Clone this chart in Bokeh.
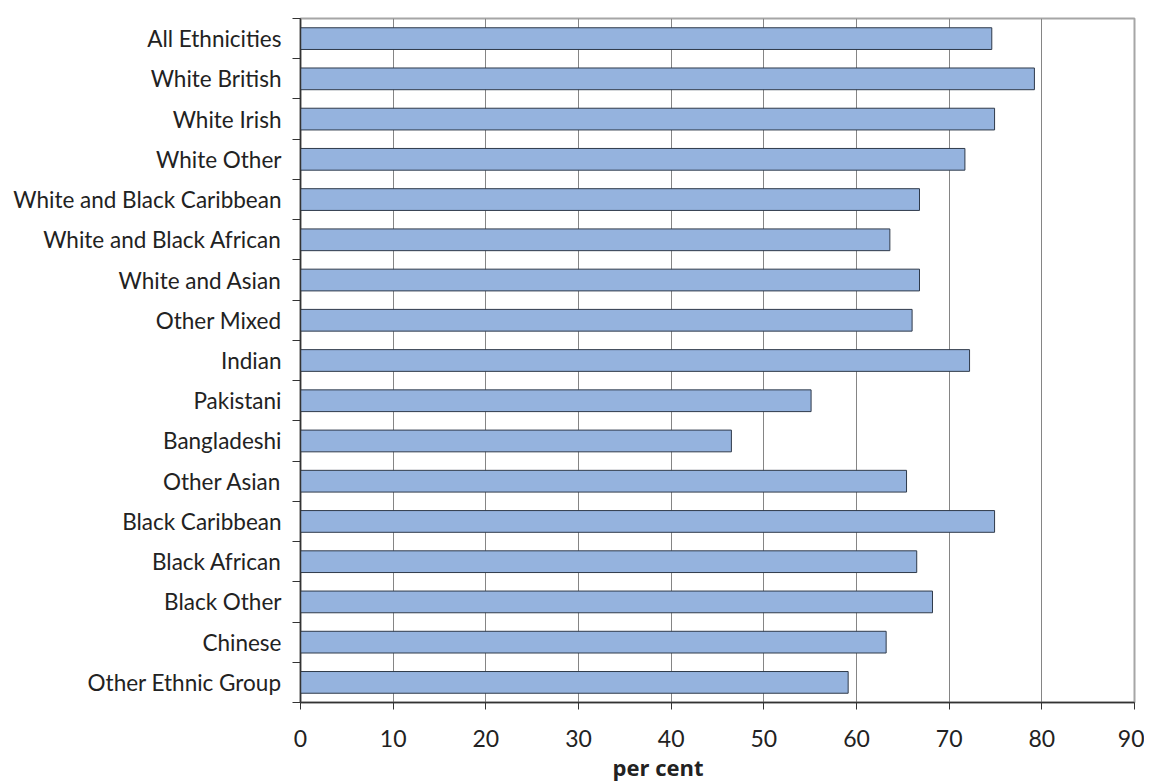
from bokeh.plotting import figure
from bokeh.models import Range1d, FixedTicker, ColumnDataSource, Title
from bokeh.embed import file_html
from bokeh.resources import INLINE

categories = [
    "All Ethnicities", "White British", "White Irish", "White Other",
    "White and Black Caribbean", "White and Black African", "White and Asian",
    "Other Mixed", "Indian", "Pakistani", "Bangladeshi", "Other Asian",
    "Black Caribbean", "Black African", "Black Other", "Chinese",
    "Other Ethnic Group",
]
values = [74.6, 79.2, 74.9, 71.7, 66.8, 63.6, 66.8, 66.0, 72.2, 55.1, 46.5,
          65.4, 74.9, 66.5, 68.2, 63.2, 59.1]
x_ticks = [0, 10, 20, 30, 40, 50, 60, 70, 80, 90]

n = len(categories)
ypos = [n - 1 - i for i in range(n)]
src = ColumnDataSource(dict(y=ypos, v=values, cat=categories))

FONT = "Lato"

p = figure(
    output_backend="svg", toolbar_location=None,
    frame_width=834, frame_height=684,
    min_border_left=300, min_border_top=18, min_border_right=10, min_border_bottom=0,
    x_range=Range1d(0, 90), y_range=Range1d(-0.5, n - 0.5),
)
p.hbar(y="y", left=0, right="v", height=0.54, source=src,
       fill_color="#95b3de", line_color="#2f3a4a", line_width=1)

p.xgrid.ticker = FixedTicker(ticks=x_ticks)
p.xgrid.grid_line_color = "#858585"
p.xgrid.grid_line_width = 1
p.ygrid.grid_line_color = None

p.outline_line_color = "#a6a6a6"
p.outline_line_width = 2

xa = p.xaxis[0]
xa.ticker = FixedTicker(ticks=x_ticks)
xa.axis_line_color = "#333333"
xa.axis_line_width = 1.5
xa.major_tick_in = 0
xa.major_tick_out = 7
xa.major_tick_line_color = "#333333"
xa.minor_tick_line_color = None
xa.major_label_text_font = FONT
xa.major_label_text_font_size = "23px"
xa.major_label_text_color = "#222222"
xa.major_label_standoff = 20

p.add_layout(Title(text="per cent", align="left", offset=312,
                   text_font="Open Sans", text_font_style="bold",
                   text_font_size="22px", text_color="#222222",
                   standoff=0), "below")

ya = p.yaxis[0]
boundaries = [i - 0.5 for i in range(n + 1)]
ya.ticker = FixedTicker(ticks=ypos, minor_ticks=boundaries)
ya.major_label_overrides = {y: c for y, c in zip(ypos, categories)}
ya.axis_line_color = "#333333"
ya.axis_line_width = 1.5
ya.major_tick_in = 0
ya.major_tick_out = 0
ya.major_tick_line_color = None
ya.minor_tick_in = 0
ya.minor_tick_out = 8
ya.minor_tick_line_color = "#333333"
ya.major_label_text_font = FONT
ya.major_label_text_font_size = "22.5px"
ya.major_label_text_color = "#222222"
ya.major_label_standoff = 11

open("out.html", "w").write(file_html(p, INLINE))
